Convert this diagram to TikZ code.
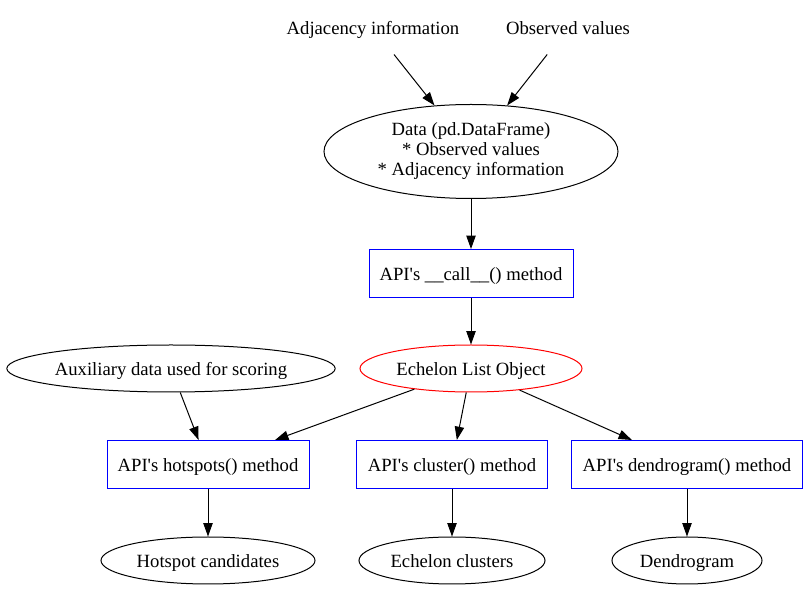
\documentclass[tikz,border=0pt]{standalone}
\usepackage{fontspec}
\setmainfont{Liberation Serif}[Ligatures=TeXOff]
\usetikzlibrary{shapes.geometric,arrows.meta}
\begin{document}
\begin{tikzpicture}[x=0.75pt,y=-0.75pt,
  every node/.style={font=\fontsize{14pt}{15pt}\selectfont, inner sep=0pt, line width=0.75pt},
  txt/.style={text height=12pt, text depth=2pt},
  ell/.style={draw=black, ellipse, txt},
  redell/.style={draw=red, ellipse, txt},
  box/.style={draw=blue, rectangle, minimum height=36pt, txt},
  plain/.style={rectangle, minimum height=39pt, txt},
  arr/.style={line width=0.75pt, -{Triangle[length=10pt,width=7pt]}}]
\useasboundingbox (0,0) rectangle (808,591);
\node[plain, minimum width=129pt] (adj) at (373,28) {Adjacency information};
\node[plain, minimum width=95pt] (obs) at (568,28) {Observed values};
\node[draw=black, ellipse, minimum width=220.5pt, minimum height=70.5pt, align=center] (data) at (471,151.5)
  {Data (pd.DataFrame)\\* Observed values\\* Adjacency information};
\node[box, minimum width=153pt] (call) at (471,273.5) {API's \_\_call\_\_() method};
\node[redell, minimum width=166.5pt, minimum height=35.25pt] (ech) at (471,368.5) {Echelon List Object};
\node[ell, minimum width=246pt, minimum height=35.25pt] (aux) at (171,368.5) {Auxiliary data used for scoring};
\node[box, minimum width=151.5pt] (hot) at (208,464.5) {API's hotspots() method};
\node[box, minimum width=143.25pt] (clu) at (452,464.5) {API's cluster() method};
\node[box, minimum width=173.25pt] (den) at (687,464.5) {API's dendrogram() method};
\node[ell, minimum width=160.5pt, minimum height=35.25pt] (hc) at (208,560.5) {Hotspot candidates};
\node[ell, minimum width=139.5pt, minimum height=35.25pt] (ec) at (452,560.5) {Echelon clusters};
\node[ell, minimum width=112.5pt, minimum height=35.25pt] (dg) at (687,560.5) {Dendrogram};
\draw[arr] (adj) -- (data);
\draw[arr] (obs) -- (data);
\draw[arr] (data) -- (call);
\draw[arr] (call) -- (ech);
\draw[arr] (ech) -- (hot);
\draw[arr] (aux) -- (hot);
\draw[arr] (ech) -- (clu);
\draw[arr] (ech) -- (den);
\draw[arr] (hot) -- (hc);
\draw[arr] (clu) -- (ec);
\draw[arr] (den) -- (dg);
\end{tikzpicture}
\end{document}
